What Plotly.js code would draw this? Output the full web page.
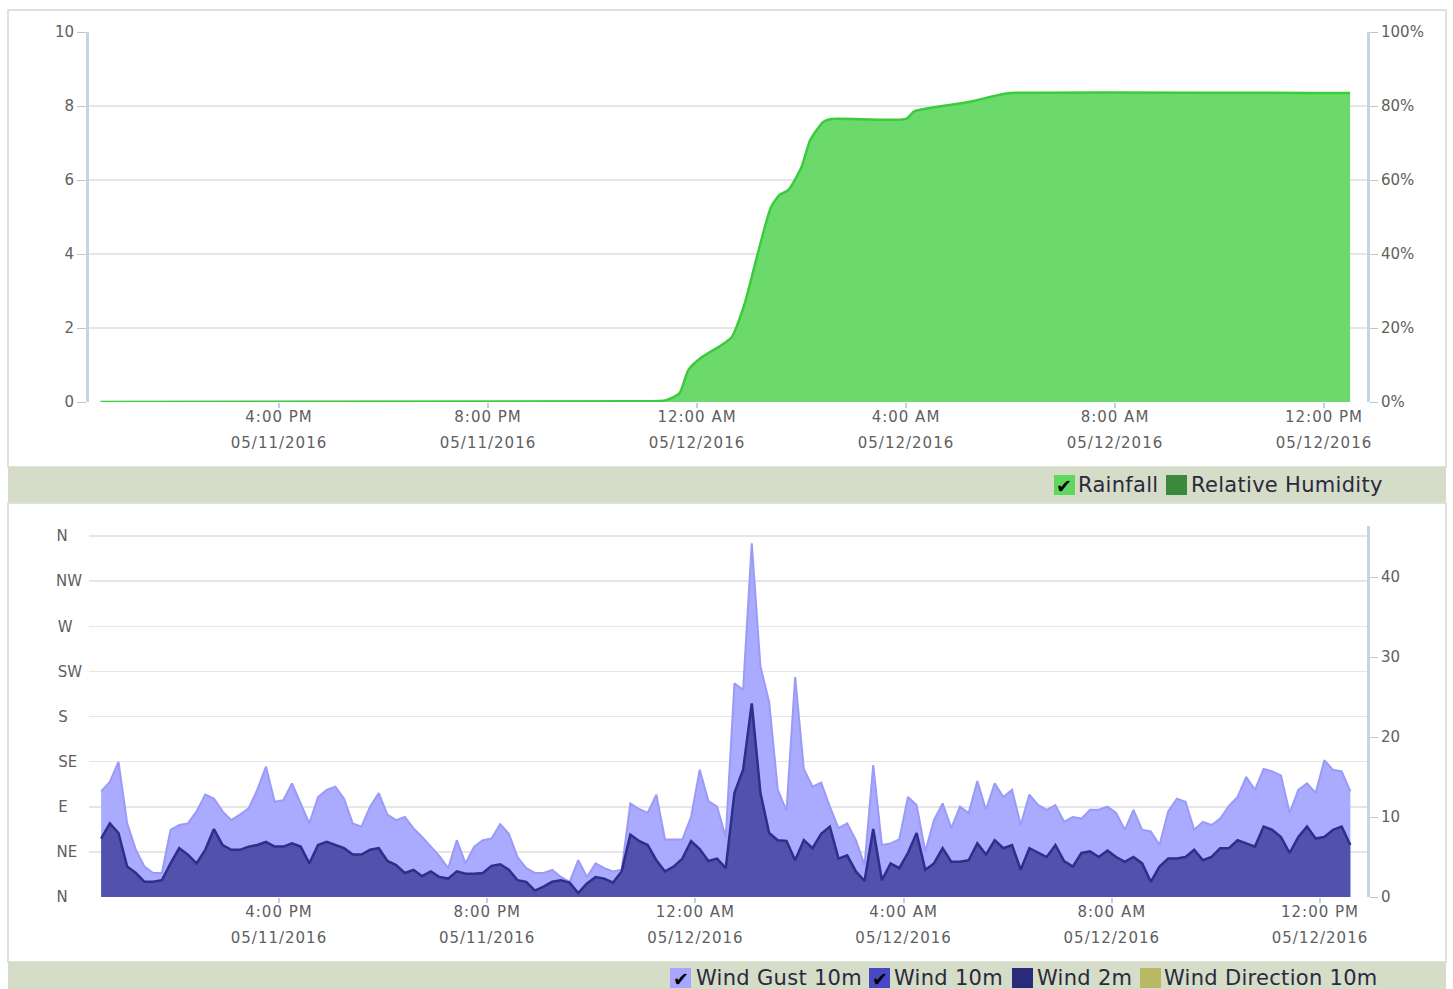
<!DOCTYPE html>
<html><head><meta charset="utf-8">
<script src="https://cdn.plot.ly/plotly-3.0.1.min.js"></script>
<style>
html,body{margin:0;padding:0;background:#fff;}
#chart{width:1453px;height:989px;}
.xtick text, .x2tick text, .x3tick text, .x4tick text {letter-spacing:1px;}
.annotation-text {letter-spacing:0.3px;}
</style></head><body><div id="chart"></div>
<script>
// ---------------- data ----------------
const rainTimes = ['2016-05-11 12:35','2016-05-11 22:50','2016-05-11 23:25','2016-05-11 23:40','2016-05-11 23:50',
  '2016-05-12 00:05','2016-05-12 00:25','2016-05-12 00:40','2016-05-12 00:55','2016-05-12 01:10','2016-05-12 01:25',
  '2016-05-12 01:35','2016-05-12 01:45','2016-05-12 02:00','2016-05-12 02:10','2016-05-12 02:25','2016-05-12 02:35',
  '2016-05-12 04:00','2016-05-12 04:10','2016-05-12 05:10','2016-05-12 05:50','2016-05-12 06:00','2016-05-12 12:30'];
const rainValues = [0,0.02,0.05,0.24,0.86,1.2,1.49,1.76,2.68,4.03,5.27,5.6,5.73,6.35,7.08,7.57,7.65,7.65,7.86,8.1,8.32,8.35,8.35];

const windStart = '2016-05-11 12:35';
const windStepMinutes = 10;
const windGust10m = [13.2,14.4,16.9,9.2,5.9,3.8,3.0,3.0,8.4,9.0,
  9.2,10.7,12.8,12.3,10.7,9.6,10.3,11.1,13.4,16.3,
  11.9,12.1,14.2,11.7,9.2,12.5,13.4,13.8,12.3,9.2,
  8.8,11.3,13.0,10.3,9.6,10.0,8.6,7.5,6.3,5.1,
  3.6,7.1,4.2,6.3,7.1,7.3,9.1,7.9,5.0,3.6,
  3.0,3.0,3.4,2.5,1.9,4.6,2.5,4.2,3.6,3.2,
  3.4,11.7,11.0,10.5,12.8,7.2,7.2,7.2,10.0,15.9,
  12.0,11.3,7.5,26.7,25.9,44.2,28.8,24.4,13.4,10.8,
  27.5,16.0,13.8,14.3,11.3,8.6,9.2,7.1,4.0,16.5,
  6.5,6.7,7.2,12.5,11.5,5.7,9.6,11.7,8.6,11.3,
  10.5,14.5,10.9,14.2,12.5,13.4,9.0,12.8,11.5,10.9,
  11.5,9.4,10.0,9.8,10.9,10.9,11.3,10.5,8.4,10.9,
  8.4,8.2,6.5,10.7,12.3,11.9,8.4,9.4,9.0,9.8,
  11.4,12.5,15.0,13.4,16.0,15.7,15.2,10.5,13.4,14.2,
  13.0,17.1,15.9,15.7,13.2];
const wind10m = [7.3,9.2,8.0,3.8,3.0,1.9,1.9,2.1,4.2,6.1,
  5.3,4.2,5.9,8.5,6.5,5.9,5.9,6.3,6.5,6.9,
  6.3,6.3,6.7,6.3,4.2,6.5,6.9,6.5,6.1,5.3,
  5.3,5.9,6.1,4.5,4.0,3.0,3.4,2.6,3.2,2.5,
  2.3,3.2,2.9,2.9,3.0,3.9,4.1,3.4,2.1,1.9,
  0.8,1.3,1.9,2.1,1.8,0.5,1.7,2.5,2.3,1.8,
  3.2,7.8,7.0,6.5,4.6,3.2,3.8,4.8,7.0,6.0,
  4.5,4.8,3.6,13.0,15.9,24.2,13.0,8.0,7.1,7.0,
  4.6,7.1,6.1,7.9,8.8,4.8,5.2,3.2,2.0,8.5,
  2.1,4.2,3.6,5.5,8.0,3.4,4.2,6.1,4.4,4.4,
  4.6,6.7,5.3,7.1,6.1,6.5,3.4,6.1,5.5,5.0,
  6.5,4.5,3.8,5.5,5.7,5.0,5.8,5.0,4.4,5.0,
  4.2,1.9,3.8,4.8,4.8,5.0,5.9,4.6,5.0,6.1,
  6.1,7.1,6.7,6.3,8.8,8.4,7.5,5.5,7.5,8.8,
  7.3,7.5,8.4,8.8,6.5];
const directionDegrees = [0,45,90,135,180,225,270,315,360];
const directionLabels = ['N','NE','E','SE','S','SW','W','NW','N'];
const topLegendNames = ['Rainfall','Relative Humidity'];
const bottomLegendNames = ['Wind Gust 10m','Wind 10m','Wind 2m','Wind Direction 10m'];

// ---------------- helpers ----------------
const W = 1453, H = 989;
const px = x => x / W;
const py = y => 1 - y / H;
function pad(n){return (n<10?'0':'')+n;}
function buildTimes(start, stepMin, n){
  const m = start.match(/(\d+)-(\d+)-(\d+) (\d+):(\d+)/);
  const base = Date.UTC(+m[1], +m[2]-1, +m[3], +m[4], +m[5]);
  const out = [];
  for (let i=0;i<n;i++){
    const d = new Date(base + i*stepMin*60000);
    out.push(d.getUTCFullYear()+'-'+pad(d.getUTCMonth()+1)+'-'+pad(d.getUTCDate())+' '+pad(d.getUTCHours())+':'+pad(d.getUTCMinutes()));
  }
  return out;
}
const windTimes = buildTimes(windStart, windStepMinutes, windGust10m.length);
// left-aligned direction labels (padded with no-break spaces to the width of "NW")
const padCount = {'N':3,'NE':1,'E':3,'SE':1,'S':3,'SW':0,'W':2,'NW':0};
const directionText = directionLabels.map(l => l + '\u00a0'.repeat(padCount[l]));

// ---------------- traces ----------------
const traces = [
  {type:'scatter', mode:'lines', name:topLegendNames[0], x:rainTimes, y:rainValues, xaxis:'x', yaxis:'y',
   fill:'tozeroy', fillcolor:'#6cd96c', line:{color:'#3bcc3b', width:2.5, shape:'spline', smoothing:0.6}},
  // hidden series (unchecked in the legend): no points drawn
  {type:'scatter', mode:'lines', name:topLegendNames[1], x:[], y:[], xaxis:'x', yaxis:'y2', line:{color:'#3b8a3b'}},
  {type:'scatter', mode:'lines', name:'dates-top', x:[], y:[], xaxis:'x3', yaxis:'y', hoverinfo:'skip'},
  {type:'scatter', mode:'lines', name:bottomLegendNames[0], x:windTimes, y:windGust10m, xaxis:'x2', yaxis:'y3',
   fill:'tozeroy', fillcolor:'#aaaaff', line:{color:'#9a9af8', width:2}},
  {type:'scatter', mode:'lines', name:bottomLegendNames[1], x:windTimes, y:wind10m, xaxis:'x2', yaxis:'y3',
   fill:'tozeroy', fillcolor:'#5252ad', line:{color:'#2e2e8c', width:2.5}},
  {type:'scatter', mode:'lines', name:bottomLegendNames[2], x:[], y:[], xaxis:'x2', yaxis:'y3', line:{color:'#2a2a7c'}},
  {type:'scatter', mode:'lines', name:bottomLegendNames[3], x:[], y:[], xaxis:'x2', yaxis:'y4', line:{color:'#b8b865'}},
  {type:'scatter', mode:'lines', name:'dates-bottom', x:[], y:[], xaxis:'x4', yaxis:'y3', hoverinfo:'skip'}
];

const tickFont = {family:'DejaVu Sans', size:15, color:'#606060'};
const axisLine = '#c6d4e2';
const gridCol = '#e6e6e6';
const topRange = ['2016-05-11 12:21:49','2016-05-12 12:49:23'];
const botRange = ['2016-05-11 12:21:00','2016-05-12 12:54:11'];
const topDomainY = [py(402),py(32)];
const botDomainY = [py(897),py(526)];
const xDomain = [px(89),px(1367)];
const xCommon = {type:'date', tickmode:'linear', tick0:'2016-05-11 16:00', dtick:14400000, domain:xDomain,
  showgrid:false, zeroline:false, showline:false, tickfont:tickFont, fixedrange:true};

const layout = {
  width:W, height:H, margin:{l:0,r:0,t:0,b:0},
  paper_bgcolor:'#ffffff', plot_bgcolor:'rgba(0,0,0,0)',
  showlegend:false, font:{family:'DejaVu Sans', size:15, color:'#606060'},
  xaxis: Object.assign({}, xCommon, {anchor:'y', range:topRange, tickformat:'%-I:%M %p',
    ticks:'outside', ticklen:5, tickwidth:2, tickcolor:'#c0d0e0', ticklabelstandoff:-4}),
  xaxis3: Object.assign({}, xCommon, {overlaying:'x', anchor:'y', side:'bottom', range:topRange,
    tickformat:'%m/%d/%Y', ticks:'', ticklabelstandoff:30}),
  yaxis: {domain:topDomainY, anchor:'x', range:[0,10], tickmode:'linear', tick0:0, dtick:2,
    showgrid:true, gridcolor:gridCol, gridwidth:1.5, zeroline:false,
    showline:true, linecolor:axisLine, linewidth:3, ticks:'outside', ticklen:9, tickwidth:1, tickcolor:'#c0c4c8',
    tickfont:tickFont, ticklabelstandoff:0, fixedrange:true},
  yaxis2: {domain:topDomainY, overlaying:'y', side:'right', anchor:'x', range:[0,100], tickmode:'linear', tick0:0, dtick:20, ticksuffix:'%',
    showgrid:false, zeroline:false, showline:true, linecolor:axisLine, linewidth:3,
    ticks:'outside', ticklen:8, tickwidth:1, tickcolor:'#c0c4c8', tickfont:tickFont, ticklabelstandoff:0, fixedrange:true},

  xaxis2: Object.assign({}, xCommon, {anchor:'y3', range:botRange, tickformat:'%-I:%M %p',
    ticks:'outside', ticklen:5, tickwidth:2, tickcolor:'#c0d0e0', ticklabelstandoff:-4}),
  xaxis4: Object.assign({}, xCommon, {overlaying:'x2', anchor:'y3', side:'bottom', range:botRange,
    tickformat:'%m/%d/%Y', ticks:'', ticklabelstandoff:30}),
  yaxis3: {domain:botDomainY, anchor:'x2', side:'right', range:[0,46.375], tickmode:'linear', tick0:0, dtick:10,
    showgrid:false, zeroline:false, showline:true, linecolor:axisLine, linewidth:3,
    ticks:'outside', ticklen:8, tickwidth:1, tickcolor:'#c0c4c8', tickfont:tickFont, ticklabelstandoff:0, fixedrange:true},
  yaxis4: {domain:botDomainY, overlaying:'y3', anchor:'x2', side:'left', range:[0,370], tickmode:'array',
    tickvals:directionDegrees, ticktext:directionText,
    showgrid:true, gridcolor:gridCol, gridwidth:1.5, zeroline:false, showline:false, ticks:'',
    tickfont:tickFont, ticklabelstandoff:6, fixedrange:true},

  shapes: [
    {type:'rect', xref:'paper', yref:'paper', x0:px(8), x1:px(1446), y0:py(467), y1:py(10), layer:'below',
     line:{color:'#d3d9cb', width:1.5}, fillcolor:'#ffffff'},
    {type:'rect', xref:'paper', yref:'paper', x0:px(8), x1:px(1446), y0:py(502), y1:py(467), layer:'below',
     line:{width:0}, fillcolor:'#d5dcc8'},
    {type:'rect', xref:'paper', yref:'paper', x0:px(8), x1:px(1446), y0:py(962), y1:py(503), layer:'below',
     line:{color:'#d3d9cb', width:1.5}, fillcolor:'#ffffff'},
    {type:'rect', xref:'paper', yref:'paper', x0:px(8), x1:px(1446), y0:py(995), y1:py(962), layer:'below',
     line:{width:0}, fillcolor:'#d5dcc8'},
    // legend swatches
    {type:'rect', xref:'paper', yref:'paper', x0:px(1054), x1:px(1075), y0:py(495), y1:py(475), line:{width:0}, fillcolor:'#5fd65f'},
    {type:'rect', xref:'paper', yref:'paper', x0:px(1166), x1:px(1187), y0:py(495), y1:py(475), line:{width:0}, fillcolor:'#3b8a3b'},
    {type:'rect', xref:'paper', yref:'paper', x0:px(670), x1:px(691), y0:py(988), y1:py(968), line:{width:0}, fillcolor:'#a6a6ff'},
    {type:'rect', xref:'paper', yref:'paper', x0:px(869), x1:px(890), y0:py(988), y1:py(968), line:{width:0}, fillcolor:'#4848c4'},
    {type:'rect', xref:'paper', yref:'paper', x0:px(1012), x1:px(1033), y0:py(988), y1:py(968), line:{width:0}, fillcolor:'#2a2a7c'},
    {type:'rect', xref:'paper', yref:'paper', x0:px(1140), x1:px(1161), y0:py(988), y1:py(968), line:{width:0}, fillcolor:'#b8b865'}
  ],
  annotations: []
};

const legFont = {family:'DejaVu Sans', size:21, color:'#2a2a3c'};
function legText(txt, x, y){
  layout.annotations.push({xref:'paper', yref:'paper', x:px(x), y:py(y), xanchor:'left', yanchor:'middle',
    text:txt, showarrow:false, font:legFont});
}
function check(x, y){
  layout.annotations.push({xref:'paper', yref:'paper', x:px(x), y:py(y), xanchor:'center', yanchor:'middle',
    text:'\u2714', showarrow:false, font:{family:'DejaVu Sans', size:19, color:'#000000'}});
}
legText(topLegendNames[0], 1076, 485);
legText(topLegendNames[1], 1189, 485);
check(1064, 486);
legText(bottomLegendNames[0], 694, 978);
legText(bottomLegendNames[1], 892, 978);
legText(bottomLegendNames[2], 1035, 978);
legText(bottomLegendNames[3], 1162, 978);
check(681, 979);
check(880, 979);

Plotly.newPlot('chart', traces, layout, {displayModeBar:false, responsive:false, staticPlot:true});
</script></body></html>
